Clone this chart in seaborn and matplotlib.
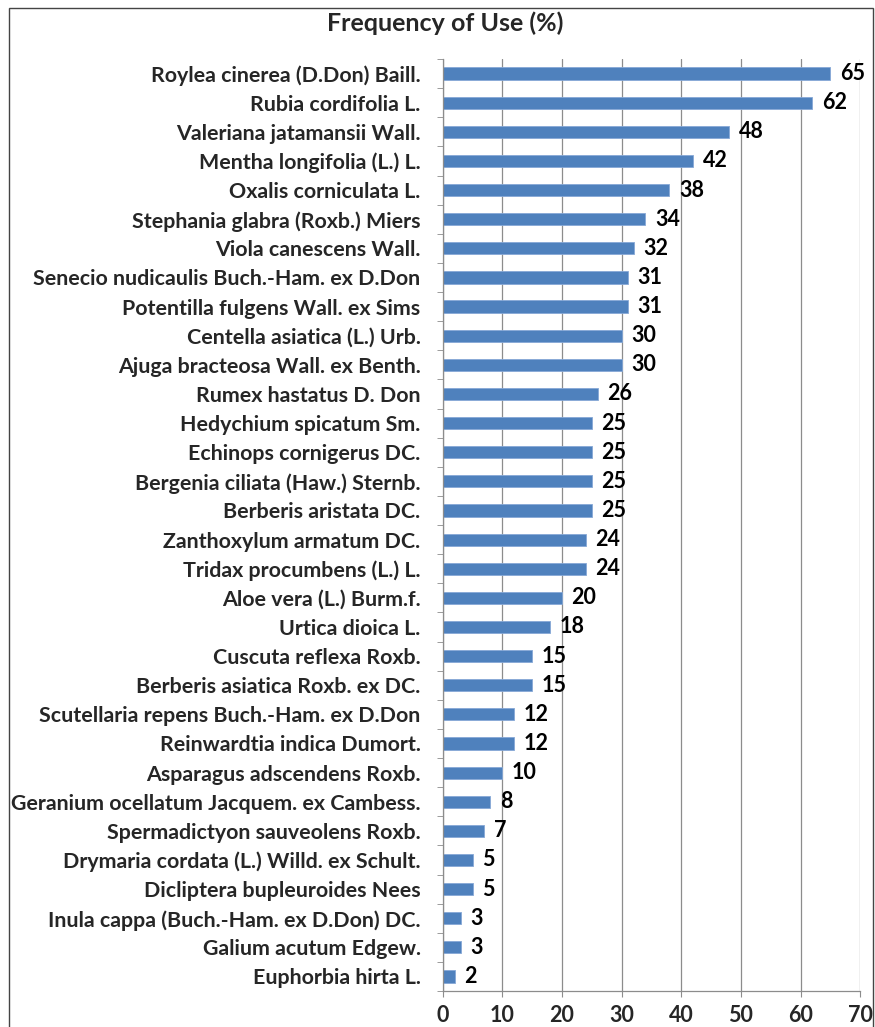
import numpy as np
import pandas as pd
import matplotlib
matplotlib.use("Agg")
import matplotlib.pyplot as plt
import seaborn as sns
from matplotlib.patches import Rectangle

# data (top to bottom)
species = [
    "Roylea cinerea (D.Don) Baill.",
    "Rubia cordifolia L.",
    "Valeriana jatamansii Wall.",
    "Mentha longifolia (L.) L.",
    "Oxalis corniculata L.",
    "Stephania glabra (Roxb.) Miers",
    "Viola canescens Wall.",
    "Senecio nudicaulis Buch.-Ham. ex D.Don",
    "Potentilla fulgens Wall. ex Sims",
    "Centella asiatica (L.) Urb.",
    "Ajuga bracteosa Wall. ex Benth.",
    "Rumex hastatus D. Don",
    "Hedychium spicatum Sm.",
    "Echinops cornigerus DC.",
    "Bergenia ciliata (Haw.) Sternb.",
    "Berberis aristata DC.",
    "Zanthoxylum armatum DC.",
    "Tridax procumbens (L.) L.",
    "Aloe vera (L.) Burm.f.",
    "Urtica dioica L.",
    "Cuscuta reflexa Roxb.",
    "Berberis asiatica Roxb. ex DC.",
    "Scutellaria repens Buch.-Ham. ex D.Don",
    "Reinwardtia indica Dumort.",
    "Asparagus adscendens Roxb.",
    "Geranium ocellatum Jacquem. ex Cambess.",
    "Spermadictyon sauveolens Roxb.",
    "Drymaria cordata (L.) Willd. ex Schult.",
    "Dicliptera bupleuroides Nees",
    "Inula cappa (Buch.-Ham. ex D.Don) DC.",
    "Galium acutum Edgew.",
    "Euphorbia hirta L.",
]
freq = [65, 62, 48, 42, 38, 34, 32, 31, 31, 30, 30, 26, 25, 25, 25, 25,
        24, 24, 20, 18, 15, 15, 12, 12, 10, 8, 7, 5, 5, 3, 3, 2]
x_ticks = [0, 10, 20, 30, 40, 50, 60, 70]

df = pd.DataFrame({"species": species, "freq": freq})

sns.set_style("white")
plt.rcParams["font.family"] = ["Lato", "DejaVu Sans"]
plt.rcParams["font.weight"] = "bold"

fig = plt.figure(figsize=(8.75, 10.27), dpi=100)
ax = fig.add_axes([0.506, 0.035, 0.477, 0.9075])

sns.barplot(data=df, x="freq", y="species", orient="h", color="#4F81BD",
            width=0.42, edgecolor="#86A8D6", linewidth=0.6, saturation=1, ax=ax)

ax.set_xlim(0, 70)
ax.set_xticks(x_ticks)
ax.set_ylim(len(species) - 0.5, -0.5)
ax.grid(axis="x", color="#8C8C8C", linewidth=0.9)
ax.set_axisbelow(True)
ax.set_xlabel("")
ax.set_ylabel("")

for s in ["top", "right"]:
    ax.spines[s].set_visible(False)
for s in ["left", "bottom"]:
    ax.spines[s].set_color("#8C8C8C")
    ax.spines[s].set_linewidth(0.9)

# excel style ticks between categories
ax.set_yticks(np.arange(len(species) + 1) - 0.5, minor=True)
ax.tick_params(axis="y", which="major", length=0, pad=16, labelsize=15.4)
ax.tick_params(axis="y", which="minor", length=4, color="#8C8C8C", left=True)
ax.tick_params(axis="x", which="major", length=4, color="#8C8C8C", bottom=True,
               pad=6, labelsize=15.5)
for lab in ax.get_yticklabels() + ax.get_xticklabels():
    lab.set_fontweight("bold")

for i, v in enumerate(freq):
    ax.text(v + 1.6, i, str(v), va="center", ha="left", fontsize=15.5,
            fontweight="bold", color="black")

fig.text(0.509, 0.977, "Frequency of Use (%)", ha="center", va="center",
         fontsize=18, fontweight="bold")

fig.patches.append(Rectangle((0.0105, -0.01), 0.987, 1.002, transform=fig.transFigure,
                             fill=False, edgecolor="#444444", linewidth=1.0))

fig.savefig("out.png", dpi=100)
